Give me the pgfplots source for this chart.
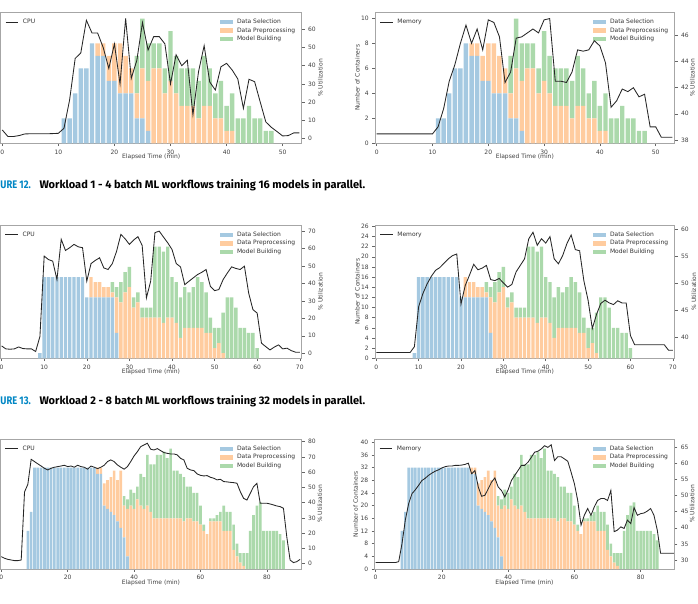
\documentclass[border=0pt]{standalone}
\usepackage{fontspec}
\setmainfont{DejaVu Sans}
\newfontfamily\chartfont{DejaVu Sans}
\newfontfamily\capfont{Fira Sans}
\usepackage{pgfplots}
\usepackage{pgfplotstable}
\pgfplotsset{compat=1.18}
\definecolor{cSel}{HTML}{A5C9E1}
\definecolor{cPre}{HTML}{FFCC9F}
\definecolor{cMod}{HTML}{ABD9AB}
\definecolor{capblue}{RGB}{0,134,196}

\pgfplotstableread{
t sel pre mod
11 2 0 0
12 2 0 0
13 4 0 0
14 6 0 0
15 6 0 0
16 8 0 0
17 7 1 0
18 7 1 0
19 5 2 0
20 5 3 0
21 4 4 0
22 4 3 0
23 4 2 0
24 2 2 3
25 2 4 4
26 1 4 3
27 0 6 2
28 0 6 2
29 0 4 2
30 0 5 4
31 0 4 3
32 0 3 3
33 0 3 3
34 0 3 3
35 0 2 3
36 0 3 4
37 0 3 3
38 0 2 2
39 0 2 3
40 0 1 2
41 0 1 3
42 0 0 2
43 0 0 2
44 0 0 3
45 0 0 2
46 0 0 2
47 0 0 1
48 0 0 1
}\barsA

\pgfplotstableread{
t v
0 4.6
1 1
2 1
3 1.5
4 2.4
5 2.5
6 2.5
7 2.5
8 2.5
9 2.6
10 2.75
11 5.5
12 21
13 44
14 47
15 65
16 58
17 58
18 50
19 38.5
20 52
21 30
22 66
23 33
24 43
25 63.7
26 48.6
27 56
28 56
29 52
30 30
31 46
32 40
33 43
34 13
35 36.7
36 51
37 31
38 26.6
39 39.4
40 41.3
41 37.6
42 32.7
43 16.5
44 32.5
45 31.2
46 20
47 9
48 6
49 3.7
50 1.3
51 1.5
52 3
53 3
}\cpuA

\pgfplotstableread{
t v
0 38.46
1 38.46
2 38.46
3 38.46
4 38.46
5 38.46
6 38.46
7 38.46
8 38.46
9 38.46
10 38.46
11 39.0
12 40.4
13 42.5
14 43.75
15 45.4
16 46.8
17 45.4
18 46.5
19 44.9
20 47.2
21 47.0
22 45.9
23 42.4
24 43.2
25 45.8
26 45.9
27 46.2
28 46.5
29 46.2
30 47.2
31 47.3
32 42.5
33 42.5
34 42.4
35 43.2
36 44.9
37 44.8
38 44.9
39 45.6
40 45.2
41 43.9
42 40.5
43 41.0
44 41.9
45 41.7
46 42.0
47 41.3
48 41.5
49 39.0
50 39.0
51 38.2
52 38.2
53 38.2
}\memA

\pgfplotstableread{
t sel pre mod
9 1 0 0
10 16 0 0
11 16 0 0
12 16 0 0
13 16 0 0
14 16 0 0
15 16 0 0
16 16 0 0
17 16 0 0
18 16 0 0
19 16 0 0
20 12 0 0
21 12 4 0
22 12 3 0
23 12 3 0
24 12 2 0
25 12 2 0
26 12 1 2
27 5 7 2
28 0 11 4
29 0 13 4
30 0 14 4
31 0 10 2
32 0 11 2
33 0 8 2
34 0 8 2
35 0 8 2
36 0 8 14
37 0 8 14
38 0 7 14
39 0 8 14
40 0 8 8
41 0 7 8
42 0 4 8
43 0 6 8
44 0 6 7
45 0 6 8
46 0 6 10
47 0 6 9
48 0 5 8
49 0 5 3
50 0 2 4
51 0 3 3
52 0 1 8
53 0 0 12
54 0 0 12
55 0 0 10
56 0 0 6
57 0 0 6
58 0 0 5
59 0 0 5
60 0 0 2
}\barsB

\pgfplotstableread{
t v
0 4.2
1 2.5
2 2.3
3 2.5
4 3.6
5 2.7
6 2.5
7 2.5
8 1
9 9.6
10 55.7
11 53.7
12 52.8
13 42.2
14 65.3
15 58.9
16 60.5
17 62.4
18 61
19 60.5
20 41.3
21 51.4
22 53.2
23 54.7
24 48.9
25 48
26 51.4
27 58.5
28 68.1
29 65.6
30 62.4
31 64.9
32 66.8
33 61.8
34 31.7
35 41.3
36 69.1
37 70
38 66.6
39 63.3
40 59.5
41 51.4
42 49.5
43 39.3
44 41.3
45 43.2
46 45.1
47 46.4
48 48
49 38.4
50 35.9
51 36.5
52 42.2
53 46
54 49.5
55 48.6
56 48
57 49.9
58 34.5
59 25
60 23
61 5.8
62 3.8
63 1.9
64 3.5
65 4.8
66 2.5
67 2.9
68 1.5
69 0.6
70 0.6
}\cpuB

\pgfplotstableread{
t v
0 37.3
1 37.3
2 37.3
3 37.3
4 37.3
5 37.3
6 37.3
7 37.3
8 37.3
9 38.35
10 45.7
11 48.1
12 49.9
13 51.3
14 52.4
15 52.9
16 53.7
17 54.5
18 55.1
19 55.4
20 46.2
21 49.6
22 51.5
23 53.5
24 52.5
25 52.8
26 53.3
27 50.7
28 50.5
29 50.9
30 50.1
31 49.3
32 49.8
33 52.1
34 53.3
35 54.5
36 58.2
37 59.4
38 57
39 58.2
40 57.4
41 58.6
42 54.5
43 53.6
44 55.1
45 57.3
46 58.9
47 56.2
48 56
49 50.5
50 46.9
51 41.7
52 44.3
53 46.3
54 46.9
55 46.4
56 46.1
57 46.8
58 46.4
59 46.4
60 40.4
61 38.7
62 38.7
63 38.7
64 38.7
65 38.7
66 38.7
67 38.7
68 38.7
69 37.7
70 37.7
}\memB

\pgfplotstableread{
t sel pre mod
8 12 0 0
9 18 0 0
10 32 0 0
11 32 0 0
12 32 0 0
13 32 0 0
14 32 0 0
15 32 0 0
16 32 0 0
17 32 0 0
18 32 0 0
19 32 0 0
20 32 0 0
21 32 0 0
22 32 0 0
23 32 0 0
24 32 0 0
25 32 0 0
26 32 0 0
27 32 0 0
28 32 0 0
29 30 2 0
30 30 2 0
31 20 7 0
32 19 9 0
33 18 11 0
34 17 14 0
35 15 13 0
36 13 18 0
37 10 10 3
38 4 15 3
39 0 20 5
40 0 19 5
41 0 22 4
42 0 20 10
43 0 19 10
44 0 20 16
45 0 18 15
46 0 16 17
47 0 16 20
48 0 16 20
49 0 16 21
50 0 16 19
51 0 16 22
52 0 16 15
53 0 16 15
54 0 16 14
55 0 15 14
56 0 16 10
57 0 16 10
58 0 15 9
59 0 15 9
60 0 14 6
61 0 12 2
62 0 11 0
63 0 15 1
64 0 15 1
65 0 15 2
66 0 15 3
67 0 12 8
68 0 12 6
69 0 12 6
70 0 6 8
71 0 4 4
72 0 2 3
73 0 1 4
74 0 0 5
75 0 0 12
76 0 0 17
77 0 0 20
78 0 0 21
79 0 0 12
80 0 0 12
81 0 0 12
82 0 0 12
83 0 0 12
84 0 0 11
85 0 0 9
}\barsC

\pgfplotstableread{
t v
0 4.6
1 3.5
2 2.8
3 2.4
4 2
5 2
6 2.4
7 47
8 52
9 68.4
10 66.9
11 65.4
12 64
13 62.5
14 61.4
15 62.5
16 63.2
17 63.6
18 64
19 64.5
20 63.6
21 64
22 63.2
23 64.5
24 63.6
25 63.2
26 61.9
27 64
28 63.2
29 62.3
30 63.2
31 64.5
32 66.9
33 68
34 66.9
35 64.7
36 63.2
37 61.9
38 63.6
39 66.9
40 70.6
41 73.4
42 76.7
43 77.8
44 78.9
45 75
46 74.5
47 75.4
48 74.1
49 72.8
50 72.3
51 71.9
52 71.9
53 71.3
54 69
55 68
56 62.5
57 61.4
58 61
59 58.8
60 57.9
61 57.5
62 57.7
63 56.6
64 56
65 54.9
66 55.3
67 53.8
68 53.6
69 53.3
70 53.1
71 52.7
72 47.2
73 42.8
74 41.7
75 46.1
76 50.5
77 52.7
78 39.6
79 39.6
80 39.6
81 39.1
82 38.5
83 37.8
84 37.4
85 36.3
86 17.7
87 2.4
88 0.7
89 1.3
90 2.8
}\cpuC

\pgfplotstableread{
t v
0 29.2
1 29.2
2 29.2
3 29.2
4 29.2
5 29.2
6 29.2
7 29.5
8 35.1
9 42.4
10 47.5
11 50.6
12 51.8
13 53.2
14 54.7
15 55.4
16 56.3
17 57
18 57.6
19 58
20 58.6
21 59
22 59.2
23 59.2
24 59.4
25 59.4
26 59.5
27 59.7
28 60.1
29 56.8
30 57.8
31 52.7
32 49.8
33 50.1
34 52.1
35 54.2
36 55.5
37 52.7
38 51.6
39 49.6
40 51.8
41 54.7
42 56.3
43 57.8
44 59.4
45 59.4
46 60.4
47 61.9
48 63.5
49 63.8
50 64.5
51 65.5
52 65
53 65.8
54 60.9
55 62.1
56 62.1
57 61.4
58 60.7
59 57.3
60 53.7
61 48.5
62 40.8
63 43.9
64 46
65 43.9
66 46.5
67 48.5
68 49.1
69 49.1
70 48.5
71 51.6
72 38.8
73 39.3
74 40.3
75 39.8
76 42.4
77 41.3
78 46.3
79 43.9
80 44.4
81 44.6
82 45.2
83 46
84 43.9
85 39.3
86 32.1
87 32.1
88 32.1
89 32.1
90 32.1
}\memC

\pgfplotsset{
  patchlegend/.style={legend image code/.code={\fill[##1] (0pt,-2.3pt) rectangle (12.5pt,2.3pt);}},
  linelegend/.style={legend image code/.code={\draw[##1] (0pt,0pt) -- (12.5pt,0pt);}},
  common/.style={scale only axis, tick align=outside, major tick length=2.8pt,
    tick style={black!60, line width=0.5pt},
    axis line style={black!35, line width=0.6pt},
    ticklabel style={font=\chartfont\fontsize{6}{7}\selectfont, text=black!75},
    label style={font=\chartfont\fontsize{6}{7}\selectfont, text=black!75},
    /pgf/number format/assume math mode=true,
    legend style={draw=none, fill=none, inner sep=0pt, row sep=2.7pt,
      font=\chartfont\fontsize{6}{7}\selectfont, text=black!80,
      nodes={inner sep=0pt, text height=4.4pt, text depth=1.4pt},
      /tikz/every odd column/.append style={column sep=4.3pt}},
    legend cell align=left},
  barax/.style={common, ybar stacked, bar width=0.8, tick pos=left, ymin=0,
    every axis plot post/.append style={patchlegend},
    legend style={at={(1,1)}, anchor=north west, xshift=-81.7pt, yshift=-6.8pt},
    xlabel={Elapsed Time (min)},
    xlabel style={at={(axis description cs:0.5,0)}, yshift=-14pt, anchor=center}},
  lineax/.style={common, axis y line*=right, axis x line=none, linelegend,
    ylabel={\% Utilization},
    legend style={at={(0,1)}, anchor=north west, xshift=4.5pt, yshift=-6.8pt}},
  sel/.style={fill=cSel, draw=none},
  pre/.style={fill=cPre, draw=none},
  mod/.style={fill=cMod, draw=none},
  ln/.style={black!85, line width=0.85pt},
}

\begin{document}
\begin{tikzpicture}
\useasboundingbox (0pt,0pt) rectangle (698pt,603pt);
\clip (0pt,0pt) rectangle (698pt,603pt);

% ---------- Workload 1, CPU ----------
\begin{axis}[barax, at={(0.6pt,459.7pt)}, anchor=south west, width=301.1pt, height=131pt,
  xmin=-0.3, xmax=53.4, ymax=10.5, xtick={0,10,...,50}, ytick=\empty]
\addplot[sel] table[x=t,y=sel]{\barsA};
\addplot[pre] table[x=t,y=pre]{\barsA};
\addplot[mod] table[x=t,y=mod]{\barsA};
\legend{Data Selection, Data Preprocessing, Model Building}
\end{axis}
\begin{axis}[lineax, at={(0.6pt,459.7pt)}, anchor=south west, width=301.1pt, height=131pt,
  xmin=-0.3, xmax=53.4, ymin=-2.75, ymax=69.4, ytick={0,10,...,60},
  ylabel style={at={(axis description cs:1.062,0.5)}, anchor=center}]
\addplot[ln] table[x=t,y=v]{\cpuA};
\legend{CPU}
\end{axis}

% ---------- Workload 1, Memory ----------
\begin{axis}[barax, at={(375pt,459.7pt)}, anchor=south west, width=299.7pt, height=131pt,
  xmin=-0.3, xmax=53.4, ymax=10.5, xtick={0,10,...,50}, ytick={0,2,...,10},
  ylabel={Number of Containers},
  ylabel style={at={(axis description cs:-0.059,0.5)}, anchor=center}]
\addplot[sel] table[x=t,y=sel]{\barsA};
\addplot[pre] table[x=t,y=pre]{\barsA};
\addplot[mod] table[x=t,y=mod]{\barsA};
\legend{Data Selection, Data Preprocessing, Model Building}
\end{axis}
\begin{axis}[lineax, at={(375pt,459.7pt)}, anchor=south west, width=299.7pt, height=131pt,
  xmin=-0.3, xmax=53.4, ymin=37.74, ymax=47.78, ytick={38,40,...,46},
  ylabel style={at={(axis description cs:1.059,0.5)}, anchor=center}]
\addplot[ln] table[x=t,y=v]{\memA};
\legend{Memory}
\end{axis}

% ---------- Workload 2, CPU ----------
\begin{axis}[barax, at={(0.3pt,244.7pt)}, anchor=south west, width=301.4pt, height=133.3pt,
  xmin=-0.3, xmax=70.45, ymax=26.26, xtick={0,10,...,70}, ytick=\empty]
\addplot[sel] table[x=t,y=sel]{\barsB};
\addplot[pre] table[x=t,y=pre]{\barsB};
\addplot[mod] table[x=t,y=mod]{\barsB};
\legend{Data Selection, Data Preprocessing, Model Building}
\end{axis}
\begin{axis}[lineax, at={(0.3pt,244.7pt)}, anchor=south west, width=301.4pt, height=133.3pt,
  xmin=-0.3, xmax=70.45, ymin=-2.9, ymax=73.5, ytick={0,10,...,70},
  ylabel style={at={(axis description cs:1.062,0.5)}, anchor=center}]
\addplot[ln] table[x=t,y=v]{\cpuB};
\legend{CPU}
\end{axis}

% ---------- Workload 2, Memory ----------
\begin{axis}[barax, at={(375pt,244.7pt)}, anchor=south west, width=299.7pt, height=133.3pt,
  xmin=-0.3, xmax=70.45, ymax=26.26, xtick={0,10,...,70}, ytick={0,2,...,26},
  ylabel={Number of Containers},
  ylabel style={at={(axis description cs:-0.059,0.5)}, anchor=center}]
\addplot[sel] table[x=t,y=sel]{\barsB};
\addplot[pre] table[x=t,y=pre]{\barsB};
\addplot[mod] table[x=t,y=mod]{\barsB};
\legend{Data Selection, Data Preprocessing, Model Building}
\end{axis}
\begin{axis}[lineax, at={(375pt,244.7pt)}, anchor=south west, width=299.7pt, height=133.3pt,
  xmin=-0.3, xmax=70.45, ymin=36.22, ymax=60.73, ytick={40,45,...,60},
  ylabel style={at={(axis description cs:1.064,0.5)}, anchor=center}]
\addplot[ln] table[x=t,y=v]{\memB};
\legend{Memory}
\end{axis}

% ---------- Workload 3, CPU ----------
\begin{axis}[barax, at={(0.3pt,34pt)}, anchor=south west, width=301.4pt, height=130pt,
  xmin=-0.3, xmax=90.5, ymax=41, xtick={0,20,...,80}, ytick=\empty]
\addplot[sel] table[x=t,y=sel]{\barsC};
\addplot[pre] table[x=t,y=pre]{\barsC};
\addplot[mod] table[x=t,y=mod]{\barsC};
\legend{Data Selection, Data Preprocessing, Model Building}
\end{axis}
\begin{axis}[lineax, at={(0.3pt,34pt)}, anchor=south west, width=301.4pt, height=130pt,
  xmin=-0.3, xmax=90.5, ymin=-3.5, ymax=81.7, ytick={0,10,...,80},
  ylabel style={at={(axis description cs:1.06,0.5)}, anchor=center}]
\addplot[ln] table[x=t,y=v]{\cpuC};
\legend{CPU}
\end{axis}

% ---------- Workload 3, Memory ----------
\begin{axis}[barax, at={(374.5pt,34pt)}, anchor=south west, width=300pt, height=130pt,
  xmin=-0.3, xmax=90.2, ymax=41, xtick={0,20,...,80}, ytick={0,4,...,40},
  ylabel={Number of Containers},
  ylabel style={at={(axis description cs:-0.063,0.5)}, anchor=center}]
\addplot[sel] table[x=t,y=sel]{\barsC};
\addplot[pre] table[x=t,y=pre]{\barsC};
\addplot[mod] table[x=t,y=mod]{\barsC};
\legend{Data Selection, Data Preprocessing, Model Building}
\end{axis}
\begin{axis}[lineax, at={(374.5pt,34pt)}, anchor=south west, width=300pt, height=130pt,
  xmin=-0.3, xmax=90.2, ymin=27.2, ymax=67.6, ytick={30,35,...,65},
  ylabel style={at={(axis description cs:1.059,0.5)}, anchor=center}]
\addplot[ln] table[x=t,y=v]{\memC};
\legend{Memory}
\end{axis}

% ---------- captions ----------
\node[anchor=base west, inner sep=0pt, font=\capfont\bfseries\fontsize{11}{13}\selectfont, text=capblue] at (0.3pt,414.5pt) {\resizebox{30.4pt}{\height}{URE 12.}};
\node[anchor=base west, inner sep=0pt, font=\capfont\bfseries\fontsize{11}{13}\selectfont] at (39.3pt,414.5pt) {\resizebox{325.7pt}{\height}{Workload 1 - 4 batch ML workflows training 16 models in parallel.}};
\node[anchor=base west, inner sep=0pt, font=\capfont\bfseries\fontsize{11}{13}\selectfont, text=capblue] at (0.3pt,198.7pt) {\resizebox{30.4pt}{\height}{URE 13.}};
\node[anchor=base west, inner sep=0pt, font=\capfont\bfseries\fontsize{11}{13}\selectfont] at (39.3pt,198.7pt) {\resizebox{325.7pt}{\height}{Workload 2 - 8 batch ML workflows training 32 models in parallel.}};
\end{tikzpicture}
\end{document}
